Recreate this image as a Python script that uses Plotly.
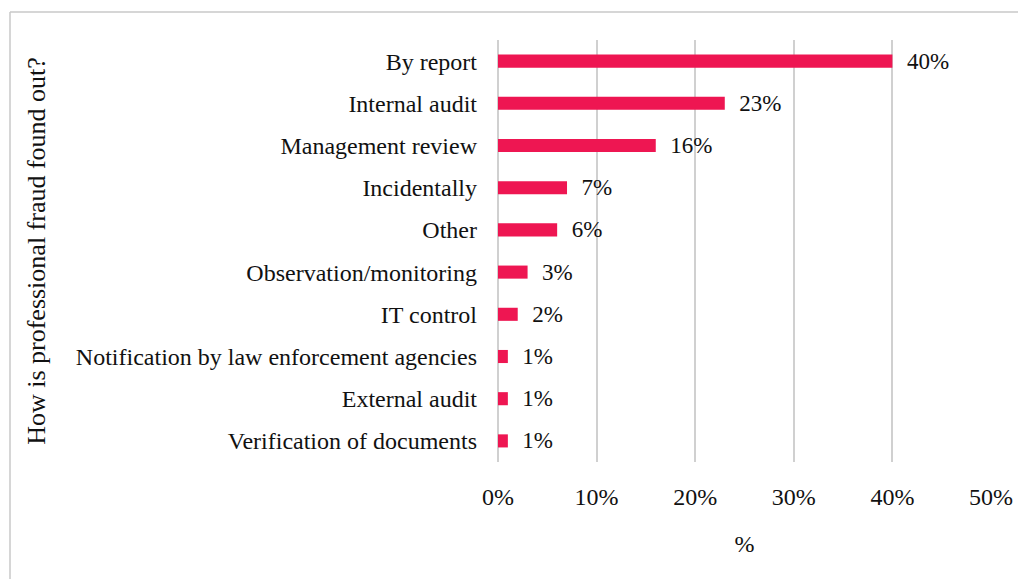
import plotly.graph_objects as go

categories = ["By report", "Internal audit", "Management review", "Incidentally", "Other",
              "Observation/monitoring", "IT control", "Notification by law enforcement agencies",
              "External audit", "Verification of documents"]
values = [40, 23, 16, 7, 6, 3, 2, 1, 1, 1]
value_labels = [f"{v}%" for v in values]
tick_vals = [0, 10, 20, 30, 40, 50]
tick_text = ["0%", "10%", "20%", "30%", "40%", "50%"]

FONT = "Liberation Serif"
BAR = "#EE1652"
GRID = "#D0D0D0"

# the page has an 8px body margin, so the figure is drawn 8px smaller
OFF = 8
W, H = 1026 - OFF, 579 - OFF
L, R, T, B = 498 - OFF, 35, 40 - OFF, 117

fig = go.Figure(go.Bar(
    y=categories, x=values, orientation="h",
    marker=dict(color=BAR, line=dict(width=0)),
    text=value_labels, texttemplate="  %{text}", textposition="outside",
    constraintext="none", cliponaxis=False,
    textfont=dict(family=FONT, size=23, color="#111111"),
))

pw = W - L - R
ph = H - T - B
fx0 = (10 - OFF - L) / pw
fy_top = 1 + (T - (12 - OFF)) / ph
fy_bot = -(B + 20) / ph
fig.add_shape(type="line", xref="paper", yref="paper", x0=fx0, x1=(W + 5 - L) / pw,
              y0=fy_top, y1=fy_top, line=dict(color="#C8C8C8", width=1.5))
fig.add_shape(type="line", xref="paper", yref="paper", x0=fx0, x1=fx0,
              y0=fy_top, y1=fy_bot, line=dict(color="#C8C8C8", width=1.5))

fig.update_layout(
    width=W, height=H,
    margin=dict(l=L, r=R, t=T, b=B, autoexpand=False),
    paper_bgcolor="white", plot_bgcolor="white",
    bargap=0.69, showlegend=False,
    font=dict(family=FONT, size=24, color="#111111"),
    xaxis=dict(range=[0, 50], tickvals=tick_vals, ticktext=tick_text,
               showgrid=True, gridcolor=GRID, gridwidth=1.5,
               zeroline=True, zerolinecolor=GRID, zerolinewidth=1.5,
               showline=False, ticks="", ticklabelstandoff=18,
               title=dict(text="%", standoff=26, font=dict(size=24)),
               automargin=False, fixedrange=True),
    yaxis=dict(autorange="reversed", showgrid=False, zeroline=False, showline=False,
               ticks="", ticklabelstandoff=20,
               title=dict(text="How is professional fraud found out?", standoff=22,
                          font=dict(size=26)),
               automargin=False, fixedrange=True),
)

fig.write_html("out.html")
